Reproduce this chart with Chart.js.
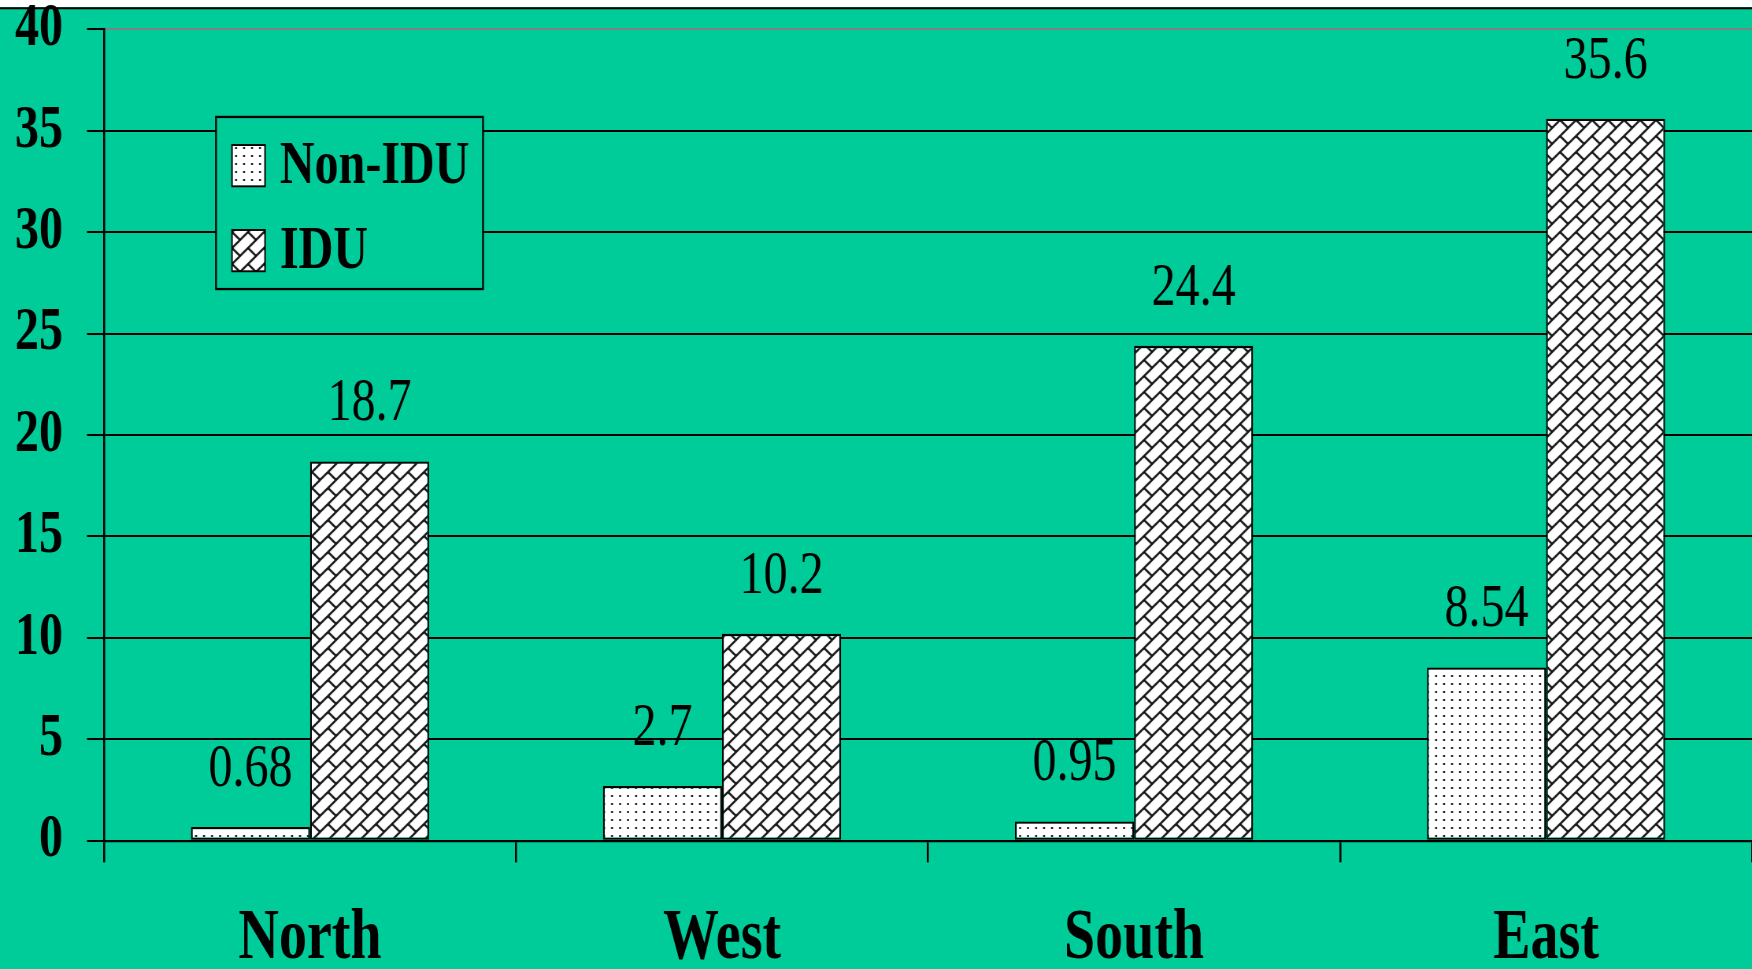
<!DOCTYPE html>
<html lang="en">
<head>
    <meta charset="UTF-8">
    <title>Non-IDU / IDU by region</title>
    <style>
        body { margin: 0; background: #fff; overflow: hidden; }
    </style>
</head>
<body>

    <!-- chart is laid out at 1752x763 and shown 969 tall, stretched like the original -->
    <canvas id="myChart" width="1752" height="763" style="display: block; width: 1752px; height: 969px;"></canvas>

    <script src="https://cdn.jsdelivr.net/npm/chart.js@4/dist/chart.umd.min.js"></script>
    <script>

        var regions = ['North', 'West', 'South', 'East'];
        var nonIdu = [0.68, 2.7, 0.95, 8.54];
        var idu = [18.7, 10.2, 24.4, 35.6];
        var nonIduLabels = ['0.68', '2.7', '0.95', '8.54'];
        var iduLabels = ['18.7', '10.2', '24.4', '35.6'];
        var yTicks = [0, 5, 10, 15, 20, 25, 30, 35, 40];

        var STRETCH = 1.27;
        var GREEN = '#00cc99';
        var SERIF = '"Liberation Serif", "Times New Roman", serif';

        var ctx = document.getElementById('myChart').getContext('2d');

        // patterns are drawn in screen pixels, undo the vertical stretch
        function makePattern(tile) {
            var p = ctx.createPattern(tile, 'repeat');
            p.setTransform(new DOMMatrix([1, 0, 0, 1 / STRETCH, 0, 0]));
            return p;
        }

        function dotPattern() {
            var c = document.createElement('canvas');
            c.width = 8; c.height = 8;
            var g = c.getContext('2d');
            g.fillStyle = '#fff';
            g.fillRect(0, 0, 8, 8);
            g.fillStyle = '#222';
            g.fillRect(3, 3, 2, 2);
            return makePattern(c);
        }

        function brickPattern() {
            var s = 16;
            var c = document.createElement('canvas');
            c.width = s; c.height = s;
            var g = c.getContext('2d');
            g.fillStyle = '#fff';
            g.fillRect(0, 0, s, s);
            g.strokeStyle = '#111';
            g.lineWidth = 2;
            g.beginPath();
            // long "/" lines
            [-s, 0, s].forEach(function (dx) {
                g.moveTo(dx + s + 1, -1);
                g.lineTo(dx - 1, s + 1);
            });
            // short "\" rungs
            g.moveTo(s / 2, s / 2); g.lineTo(s + 1, s + 1);
            g.moveTo(-1, -1); g.lineTo(0, 0);
            g.stroke();
            return makePattern(c);
        }

        var dots = dotPattern();
        var bricks = brickPattern();

        var background = {
            id: 'background',
            beforeDraw: function (chart) {
                var c = chart.ctx;
                c.save();
                c.fillStyle = GREEN;
                c.fillRect(0, 0, chart.width, chart.height);
                c.fillStyle = '#fff';
                c.fillRect(0, 0, chart.width, 5.7);
                c.fillStyle = '#000';
                c.fillRect(0, 5.7, chart.width, 1.6);
                c.restore();
            }
        };

        var barLabels = {
            id: 'barLabels',
            afterDatasetsDraw: function (chart) {
                var c = chart.ctx;
                c.save();
                c.font = '48px ' + SERIF;
                c.fillStyle = '#000';
                c.textAlign = 'center';
                c.textBaseline = 'middle';
                chart.data.datasets.forEach(function (ds, i) {
                    chart.getDatasetMeta(i).data.forEach(function (bar, j) {
                        c.fillText(ds.valueLabels[j], bar.x, bar.y - 45);
                    });
                });
                c.restore();
            }
        };

        var boxLegend = {
            id: 'boxLegend',
            afterDraw: function (chart) {
                var c = chart.ctx;
                var rows = [114.2, 181.1];
                c.save();
                c.fillStyle = GREEN;
                c.fillRect(216, 92.1, 267, 135.5);
                c.strokeStyle = '#000';
                c.lineWidth = 1.8;
                c.strokeRect(216, 92.1, 267, 135.5);
                c.font = 'bold 48px ' + SERIF;
                c.textBaseline = 'middle';
                chart.data.datasets.forEach(function (ds, i) {
                    c.fillStyle = ds.backgroundColor;
                    c.fillRect(232, rows[i], 33, 32.5);
                    c.lineWidth = 1.5;
                    c.strokeRect(232, rows[i], 33, 32.5);
                    c.fillStyle = '#000';
                    c.fillText(ds.label, 280, rows[i] + 17.5);
                });
                c.restore();
            }
        };

        function noPadding(scale) {
            scale.paddingLeft = 0;
            scale.paddingRight = 0;
            scale.paddingTop = 0;
            scale.paddingBottom = 0;
        }

        var config = {
            type: 'bar',
            data: {
                labels: regions,
                datasets: [{
                    label: 'Non-IDU',
                    data: nonIdu,
                    valueLabels: nonIduLabels,
                    backgroundColor: dots,
                    borderColor: '#000',
                    borderWidth: 1.8,
                    borderSkipped: false,
                    categoryPercentage: 0.578,
                    barPercentage: 1
                }, {
                    label: 'IDU',
                    data: idu,
                    valueLabels: iduLabels,
                    backgroundColor: bricks,
                    borderColor: '#000',
                    borderWidth: 1.8,
                    borderSkipped: false,
                    categoryPercentage: 0.578,
                    barPercentage: 1
                }]
            },
            options: {
                responsive: false,
                devicePixelRatio: STRETCH,
                animation: false,
                layout: { padding: { top: 23.2, left: 0, right: 0, bottom: 0 } },
                plugins: {
                    legend: { display: false },
                    tooltip: { enabled: false }
                },
                scales: {
                    x: {
                        offset: true,
                        grid: {
                            offset: true,
                            drawOnChartArea: false,
                            drawTicks: true,
                            tickLength: 17,
                            color: '#000',
                            lineWidth: 2
                        },
                        border: { display: true, color: '#000', width: 1.8 },
                        ticks: {
                            color: '#000',
                            font: { family: SERIF, size: 56, weight: 'bold' },
                            padding: 27,
                            maxRotation: 0,
                            autoSkip: false
                        },
                        afterFit: function (scale) {
                            noPadding(scale);
                            scale.height = 101;
                        }
                    },
                    y: {
                        min: 0,
                        max: 40,
                        afterBuildTicks: function (scale) {
                            scale.ticks = yTicks.map(function (v) { return { value: v }; });
                        },
                        ticks: {
                            color: '#000',
                            font: { family: SERIF, size: 48, weight: 'bold' },
                            padding: 24
                        },
                        grid: {
                            color: function (c) {
                                return c.tick && c.tick.value === 40 ? '#808080' : '#000';
                            },
                            tickColor: '#000',
                            lineWidth: 1.6,
                            tickLength: 17
                        },
                        border: { display: true, color: '#000', width: 2 },
                        afterFit: function (scale) {
                            noPadding(scale);
                            scale.width = 104;
                        }
                    }
                }
            },
            plugins: [background, barLabels, boxLegend]
        };

        var chart = new Chart(ctx, config);

    </script>

</body>
</html>
